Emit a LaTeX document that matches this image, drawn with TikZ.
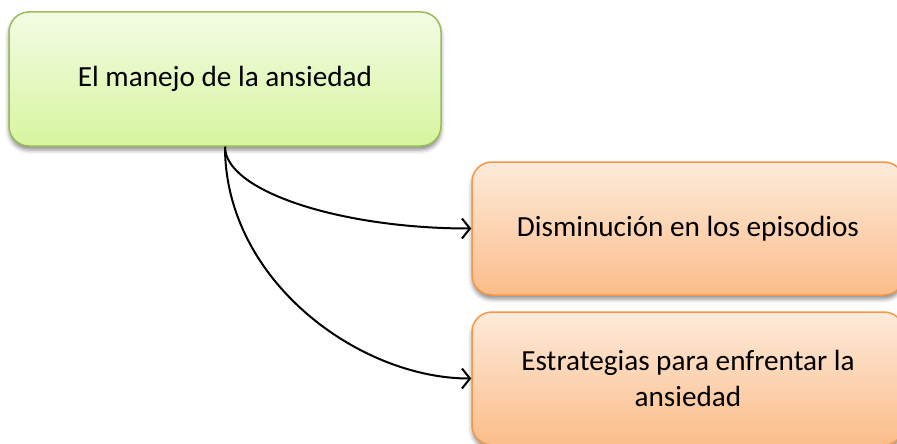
\documentclass[tikz,border=0pt]{standalone}
\usepackage{fontspec}
\setmainfont{Carlito}
\usetikzlibrary{arrows.meta,shadows.blur}
\definecolor{gtop}{RGB}{243,251,228}
\definecolor{gbot}{RGB}{214,245,158}
\definecolor{gline}{RGB}{155,187,89}
\definecolor{otop}{RGB}{253,234,218}
\definecolor{obot}{RGB}{251,189,138}
\definecolor{oline}{RGB}{247,150,70}
\tikzset{
  box/.style={rounded corners=20pt, minimum width=432pt, line width=1.5pt,
    align=center, font=\fontsize{29.2}{36}\selectfont, inner sep=0pt,
    blur shadow={shadow xshift=0pt, shadow yshift=-4pt, shadow blur radius=4pt, shadow opacity=45}},
  greenbox/.style={box, draw=gline, top color=gtop, bottom color=gbot, minimum height=134pt},
  orangebox/.style={box, draw=oline, top color=otop, bottom color=obot, minimum height=133pt},
  link/.style={line width=2pt, -{Straight Barb[length=8pt,width=20pt,line width=2pt]}}
}
\begin{document}
\begin{tikzpicture}[x=1pt,y=-1pt]
\useasboundingbox (0,0) rectangle (897,444);
\clip (0,0) rectangle (897,444);
\node[greenbox] (g) at (225,79) {El manejo de la ansiedad};
\node[orangebox] (o1) at (688,228.5) {Disminución en los episodios};
\node[orangebox] (o2) at (688,378.5) {Estrategias para enfrentar la\\ansiedad};
\draw[link] (g.south) .. controls +(0,44) and +(-132,0) .. (o1.west);
\draw[link] (g.south) .. controls +(0,134) and +(-112,0) .. (o2.west);
\end{tikzpicture}
\end{document}
